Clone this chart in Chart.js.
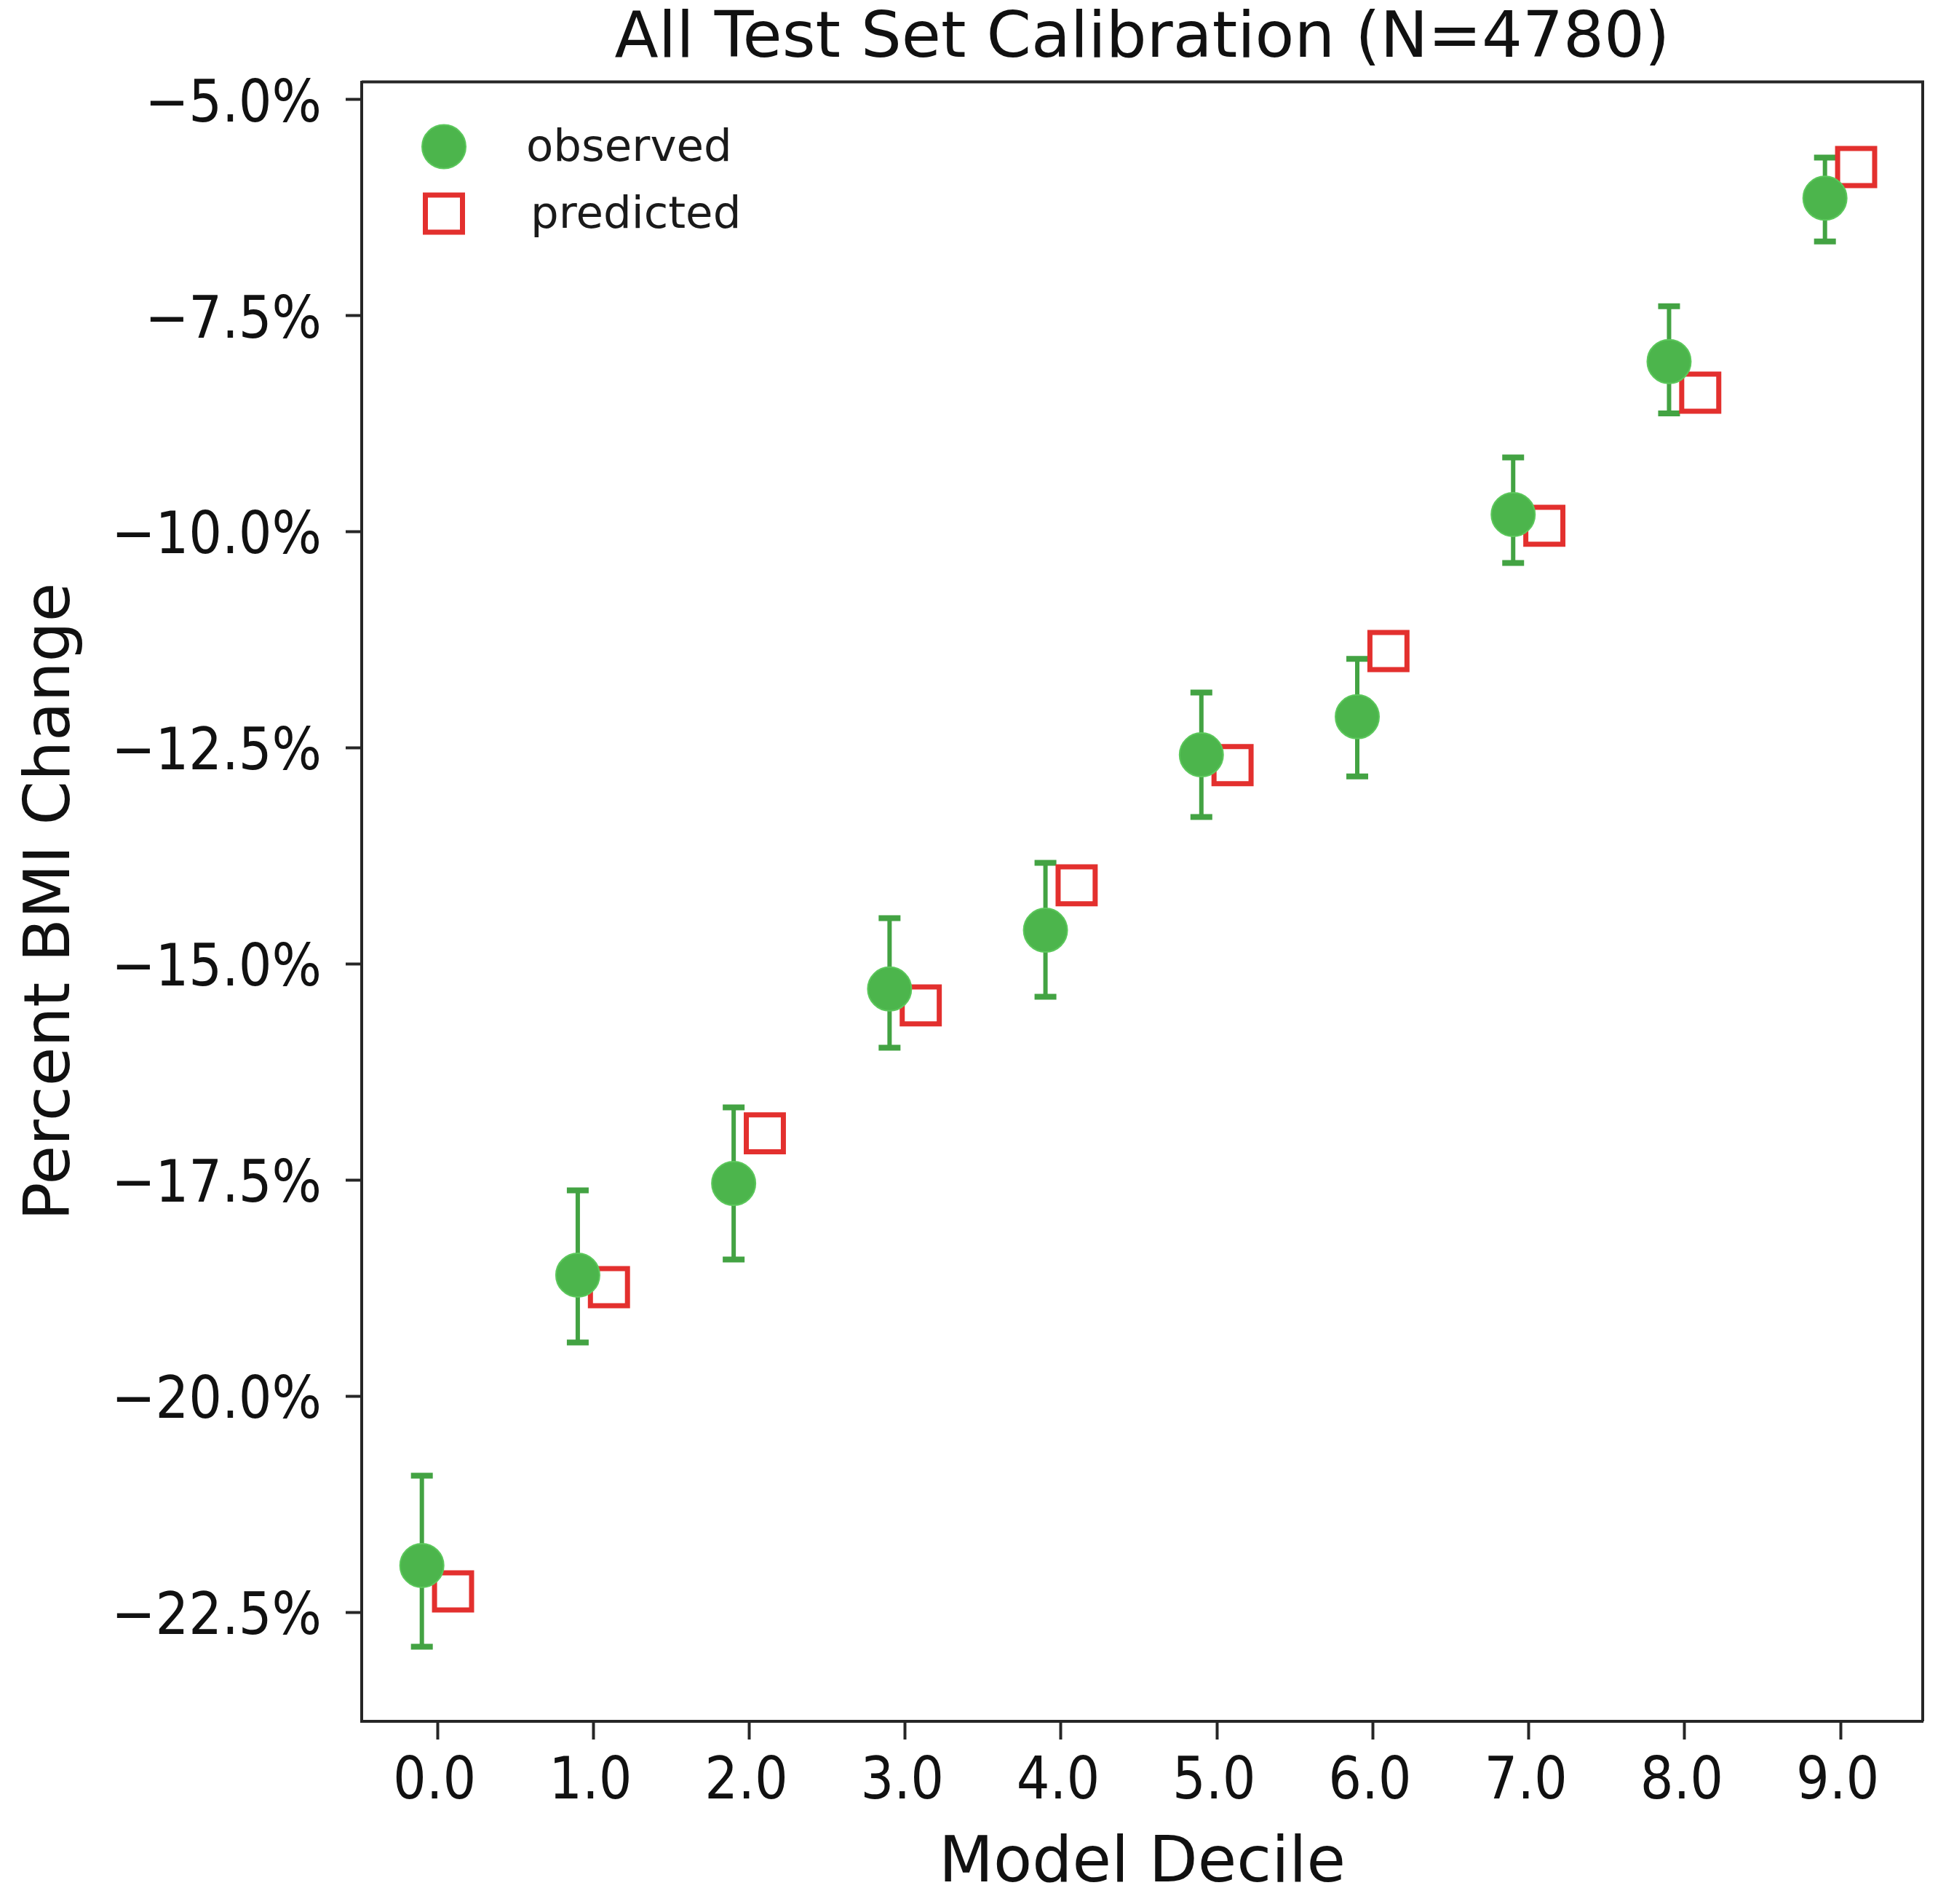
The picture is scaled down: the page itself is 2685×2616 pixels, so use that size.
<!DOCTYPE html>
<html>
<head>
<meta charset="utf-8">
<script src="https://cdn.jsdelivr.net/npm/chart.js@4.4.1/dist/chart.umd.min.js"></script>
<style>
  html, body { margin: 0; padding: 0; background: #ffffff; overflow: hidden; }
  #c { display: block; width: 2685px; height: 2616px; }
</style>
</head>
<body>
<canvas id="c" width="2685" height="2616"></canvas>
<script>
// ---------------- data ----------------
const deciles = [0, 1, 2, 3, 4, 5, 6, 7, 8, 9];
const observed = [-21.96, -18.60, -17.54, -15.29, -14.61, -12.58, -12.14, -9.80, -8.03, -6.14];
const observedLower = [-22.90, -19.38, -18.42, -15.97, -15.38, -13.30, -12.83, -10.36, -8.63, -6.64];
const observedUpper = [-20.92, -17.62, -16.66, -14.47, -13.83, -11.86, -11.47, -9.14, -7.39, -5.67];
const predicted = [-22.26, -18.74, -16.96, -15.48, -14.09, -12.70, -11.38, -9.93, -8.39, -5.78];
const xTickValues = [0, 1, 2, 3, 4, 5, 6, 7, 8, 9];
const xTickLabels = ['0.0', '1.0', '2.0', '3.0', '4.0', '5.0', '6.0', '7.0', '8.0', '9.0'];
const yTickValues = [-22.5, -20.0, -17.5, -15.0, -12.5, -10.0, -7.5, -5.0];
const yTickLabels = ['\u221222.5%', '\u221220.0%', '\u221217.5%', '\u221215.0%', '\u221212.5%', '\u221210.0%', '\u22127.5%', '\u22125.0%'];
const seriesLabels = ['observed', 'predicted'];
const titleText = 'All Test Set Calibration (N=4780)';
const xTitle = 'Model Decile';
const yTitle = 'Percent BMI Change';
const dodge = 0.1;

// ---------------- styles ----------------
const GREEN = '#4cb54c';
const GREEN_EDGE = '#5cc85c';
const GREEN_ERR = '#43a343';
const RED = '#e3302e';
const AXIS = '#262626';
const BASE_FONT = "'DejaVu Sans', 'Liberation Sans', sans-serif";
const TICK_FONT = "'DejaVu Sans Condensed', 'DejaVu Sans', sans-serif";

const obsPoints = deciles.map((d, i) => ({ x: d - dodge, y: observed[i], lo: observedLower[i], hi: observedUpper[i] }));
const predPoints = deciles.map((d, i) => ({ x: d + dodge, y: predicted[i] }));

// error bars drawn under the markers, through the chart's scales
const errorBars = {
  id: 'errorBars',
  beforeDatasetsDraw(chart) {
    const { ctx, scales: { x, y } } = chart;
    const ds = chart.data.datasets[0];
    ctx.save();
    ctx.strokeStyle = GREEN_ERR;
    ds.data.forEach(p => {
      const px = x.getPixelForValue(p.x);
      const pLo = y.getPixelForValue(p.lo);
      const pHi = y.getPixelForValue(p.hi);
      ctx.lineWidth = 6;
      ctx.beginPath();
      ctx.moveTo(px, pLo);
      ctx.lineTo(px, pHi);
      ctx.stroke();
      ctx.lineWidth = 8;
      ctx.beginPath();
      ctx.moveTo(px - 15, pLo); ctx.lineTo(px + 15, pLo);
      ctx.moveTo(px - 15, pHi); ctx.lineTo(px + 15, pHi);
      ctx.stroke();
    });
    ctx.restore();
  }
};

// top/right spines of the axes box
const frame = {
  id: 'frame',
  afterDraw(chart) {
    const { ctx, chartArea: a } = chart;
    ctx.save();
    ctx.strokeStyle = AXIS;
    ctx.lineWidth = 4;
    ctx.beginPath();
    ctx.moveTo(a.left, a.top);
    ctx.lineTo(a.right, a.top);
    ctx.lineTo(a.right, a.bottom);
    ctx.stroke();
    ctx.restore();
  }
};

// legend inside the axes (upper left), matplotlib style
const innerLegend = {
  id: 'innerLegend',
  afterDraw(chart) {
    const { ctx, chartArea: a } = chart;
    const items = chart.data.datasets;
    ctx.save();
    const mx = a.left + 113;
    const tx = a.left + 226;
    const y0 = a.top + 89;
    const step = 92;
    ctx.font = "61px " + BASE_FONT;
    ctx.textBaseline = 'middle';
    ctx.textAlign = 'left';
    items.forEach((ds, i) => {
      const cy = y0 + i * step;
      if (ds.pointStyle === 'circle') {
        ctx.beginPath();
        ctx.arc(mx, cy, 30, 0, Math.PI * 2);
        ctx.fillStyle = ds.backgroundColor;
        ctx.fill();
        ctx.lineWidth = 2;
        ctx.strokeStyle = ds.borderColor;
        ctx.stroke();
      } else {
        const h = 25.5;
        ctx.lineWidth = ds.borderWidth;
        ctx.strokeStyle = ds.borderColor;
        ctx.fillStyle = '#ffffff';
        ctx.beginPath();
        ctx.rect(mx - h, cy - h, 2 * h, 2 * h);
        ctx.fill();
        ctx.stroke();
      }
      ctx.fillStyle = '#1a1a1a';
      ctx.fillText(ds.label, tx + (i === 1 ? 6 : 0), cy + 4);
    });
    ctx.restore();
  }
};

new Chart(document.getElementById('c'), {
  type: 'scatter',
  data: {
    datasets: [
      {
        label: seriesLabels[0],
        data: obsPoints,
        pointStyle: 'circle',
        pointRadius: 30,
        pointHoverRadius: 30,
        backgroundColor: GREEN,
        borderColor: GREEN_EDGE,
        borderWidth: 2,
        showLine: false
      },
      {
        label: seriesLabels[1],
        data: predPoints,
        pointStyle: 'rect',
        pointRadius: 36,
        pointHoverRadius: 36,
        backgroundColor: 'rgba(255,255,255,0)',
        borderColor: RED,
        borderWidth: 7,
        showLine: false
      }
    ]
  },
  options: {
    responsive: false,
    maintainAspectRatio: false,
    animation: false,
    devicePixelRatio: 1,
    events: [],
    layout: { padding: { left: 0, right: 23, top: 0, bottom: 0 } },
    plugins: {
      legend: { display: false },
      tooltip: { enabled: false },
      title: {
        display: true,
        text: titleText,
        fullSize: false,
        color: '#111111',
        font: { family: BASE_FONT, size: 88, weight: 'normal', lineHeight: 1.2 },
        padding: { top: 2, bottom: 5 }
      }
    },
    scales: {
      x: {
        type: 'linear',
        position: 'bottom',
        min: -0.486,
        max: 9.527,
        afterBuildTicks: (s) => { s.ticks = xTickValues.map(v => ({ value: v })); },
        afterFit: (s) => { s.height = 251; s.paddingLeft = 0; s.paddingRight = 0; },
        ticks: {
          callback: (v) => xTickLabels[xTickValues.indexOf(v)],
          color: '#111111',
          font: { family: TICK_FONT, size: 80, lineHeight: 1.2 },
          padding: 12,
          maxRotation: 0,
          autoSkip: false,
          labelOffset: -4
        },
        grid: {
          display: true,
          drawOnChartArea: false,
          drawTicks: true,
          tickLength: 25,
          tickWidth: 4,
          tickColor: AXIS
        },
        border: { display: true, color: AXIS, width: 4 },
        title: {
          display: true,
          text: xTitle,
          color: '#111111',
          font: { family: BASE_FONT, size: 87, lineHeight: 1.2 },
          padding: { top: 0, bottom: 1 }
        }
      },
      y: {
        type: 'linear',
        position: 'left',
        min: -23.763,
        max: -4.795,
        afterBuildTicks: (s) => { s.ticks = yTickValues.map(v => ({ value: v })); },
        afterFit: (s) => { s.width = 497; s.paddingTop = 0; s.paddingBottom = 0; },
        ticks: {
          callback: (v) => yTickLabels[yTickValues.indexOf(v)],
          color: '#111111',
          font: { family: TICK_FONT, size: 80, lineHeight: 1.2 },
          padding: 33,
          autoSkip: false,
          labelOffset: 9
        },
        grid: {
          display: true,
          drawOnChartArea: false,
          drawTicks: true,
          tickLength: 22,
          tickWidth: 4,
          tickColor: AXIS
        },
        border: { display: true, color: AXIS, width: 4 },
        title: {
          display: true,
          text: yTitle,
          color: '#111111',
          font: { family: BASE_FONT, size: 87, lineHeight: 1.2 },
          padding: { top: 20, bottom: 0 }
        }
      }
    }
  },
  plugins: [errorBars, frame, innerLegend]
});
</script>
</body>
</html>
